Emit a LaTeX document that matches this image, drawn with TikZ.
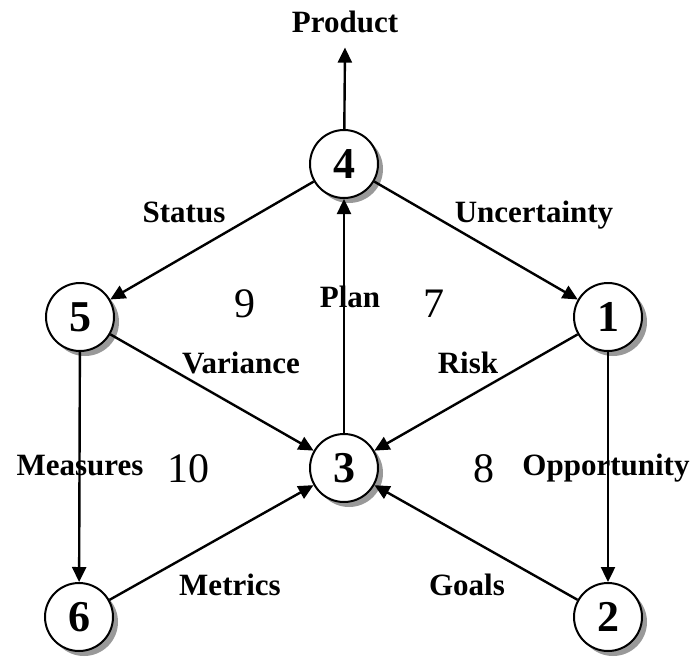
\documentclass[tikz,border=0pt]{standalone}
\usepackage{fontspec}
\setmainfont{Liberation Serif}
\usetikzlibrary{arrows.meta,shadows}
\begin{document}
\begin{tikzpicture}[x=1pt,y=-1pt,
  state/.style={circle,draw,line width=2pt,fill=white,minimum size=68pt,inner sep=0pt,
    font=\bfseries\fontsize{44}{44}\selectfont,
    drop shadow={shadow xshift=5pt,shadow yshift=-5pt,fill=black!40,opacity=1}},
  lbl/.style={anchor=base,inner sep=0pt,font=\bfseries\fontsize{31}{31}\selectfont},
  num/.style={anchor=base,inner sep=0pt,font=\fontsize{42}{42}\selectfont},
  arr/.style={line width=2.4pt,-{Triangle[length=15pt,width=14pt]}}]
\useasboundingbox (0,0) rectangle (696,659);
\node[state] (n4) at (344,164) {4};
\node[state] (n5) at (80,317) {5};
\node[state] (n1) at (608,317) {1};
\node[state] (n3) at (344,468) {3};
\node[state] (n6) at (79,617) {6};
\node[state] (n2) at (608,617) {2};
\node[lbl] (prod) at (345,32) {Product};
\node[lbl] (status) at (184,222) {Status};
\node[lbl] (unc) at (534,222) {Uncertainty};
\node[lbl] (plan) at (350,307) {Plan};
\node[num] (nine) at (245,317) {9};
\node[num] (seven) at (434,317) {7};
\node[lbl] (var) at (241,373) {Variance};
\node[lbl] (risk) at (468,373) {Risk};
\node[lbl] (meas) at (80,475) {Measures};
\node[num] (ten) at (188,482) {10};
\node[num] (eight) at (484,482) {8};
\node[lbl] (opp) at (606,475) {Opportunity};
\node[lbl] (metr) at (230,595) {Metrics};
\node[lbl] (goals) at (467,595) {Goals};
\draw[arr] (n4) -- ([yshift=-15pt]prod.south);
\draw[arr] (n4) -- (n5);
\draw[arr] (n4) -- (n1);
\draw[arr] (n3) -- (n4);
\draw[arr] (n5) -- (n3);
\draw[arr] (n1) -- (n3);
\draw[arr] (n5) -- (n6);
\draw[arr] (n1) -- (n2);
\draw[arr] (n6) -- (n3);
\draw[arr] (n2) -- (n3);
\end{tikzpicture}
\end{document}
